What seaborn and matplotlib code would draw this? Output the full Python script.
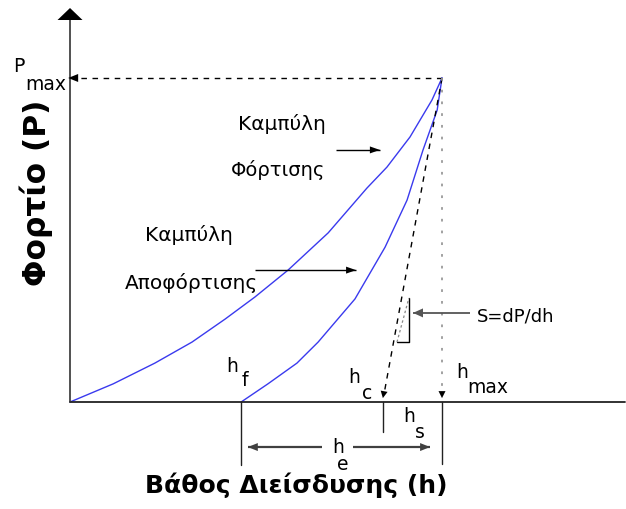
import numpy as np
import pandas as pd
import matplotlib
matplotlib.use("Agg")
import matplotlib.pyplot as plt
import seaborn as sns

# Loading / unloading curve of a depth-sensing indentation test (normalised: h/h_max, P/P_max)
load_h = [0.0, 0.116, 0.228, 0.328, 0.417, 0.497, 0.586, 0.694, 0.798, 0.852, 0.914, 0.973, 1.0]
load_P = [0.0, 0.056, 0.120, 0.185, 0.256, 0.324, 0.407, 0.522, 0.660, 0.725, 0.818, 0.932, 1.0]

unload_h = [0.460, 0.532, 0.610, 0.667, 0.766, 0.847, 0.906, 0.949, 0.987, 1.0]
unload_P = [0.0, 0.056, 0.120, 0.185, 0.318, 0.478, 0.623, 0.778, 0.901, 1.0]

h_f = 0.460     # final (residual) depth
h_c = 0.841     # contact depth
h_max = 1.0     # maximum depth
P_max = 1.0     # maximum load

curve_labels = ["Καμπύλη", "Φόρτισης", "Καμπύλη", "Αποφόρτισης"]
x_label = "Βάθος Διείσδυσης (h)"
y_label = "Φορτίο (P)"
stiffness_label = "S=dP/dh"

sns.set_theme(style="white")
plt.rcParams["font.family"] = ["DejaVu Sans"]
plt.rcParams["text.color"] = "black"

fig = plt.figure(figsize=(6.26, 5.09), dpi=100)
ax = fig.add_axes([0, 0, 1, 1])
ax.set_xlim(-0.1882, 1.4946)
ax.set_ylim(-0.3302, 1.2407)
ax.axis("off")

BLUE = "#3a3aee"
curves = pd.concat([
    pd.DataFrame({"h": load_h, "P": load_P, "curve": "load"}),
    pd.DataFrame({"h": unload_h, "P": unload_P, "curve": "unload"}),
])
sns.lineplot(data=curves, x="h", y="P", units="curve", estimator=None,
             sort=False, color=BLUE, lw=1.0, ax=ax, legend=False)


def head(tip, tail, length, width, color="black"):
    """Filled triangular arrow head, sized in pixels, pointing from tail to tip."""
    T = ax.transData
    tp = T.transform(tip)
    tl = T.transform(tail)
    d = tp - tl
    d = d / np.hypot(*d)
    n = np.array([-d[1], d[0]])
    base = tp - d * length
    pts = np.array([tp, base + n * width / 2, base - n * width / 2])
    dat = T.inverted().transform(pts)
    ax.fill(dat[:, 0], dat[:, 1], color=color, lw=0, zorder=5)


def arrow(tail, tip, color="black", lw=1.0, length=10, width=8, ls="-"):
    ax.plot([tail[0], tip[0]], [tail[1], tip[1]], color=color, lw=lw, ls=ls,
            solid_capstyle="butt")
    head(tip, tail, length, width, color)


# axes of the diagram
ax.plot([0, 1.492], [0, 0], color="#222222", lw=1.3)
ax.plot([0, 0], [0, 1.18], color="#333333", lw=1.2)
head((0, 1.216), (0, 0), 12, 25)

# P_max level
ax.plot([h_max, 0.025], [P_max, P_max], color="black", lw=1.0, ls=(0, (4, 4)))
head((-0.005, P_max), (h_max, P_max), 10, 8)

# unloading tangent down to h_c
ax.plot([h_max, h_c + 0.004], [P_max, 0.03], color="black", lw=1.0, ls=(0, (4, 4)))
head((h_c, 0.012), (h_max, P_max), 7, 7)

# h_max vertical
ax.plot([h_max, h_max], [P_max, 0.03], color="#9a9a9a", lw=1.3, ls=(0, (1.5, 5)))
head((h_max, 0.012), (h_max, P_max), 7, 7)

# reference lines below the depth axis
for hv, low in [(h_f, -0.194), (h_c, -0.093), (h_max, -0.19)]:
    ax.plot([hv, hv], [0, low], color="#222222", lw=1.0)

# elastic depth h_e span
he_y = -0.139
arrow((0.677, he_y), (0.478, he_y), color="#404040", lw=1.6, length=10, width=8)
arrow((0.761, he_y), (0.968, he_y), color="#404040", lw=1.6, length=10, width=8)

# stiffness triangle and pointer
ax.plot([0.879, 0.911, 0.911], [0.185, 0.185, 0.321], color="black", lw=1.0)
ax.plot([0.879, 0.911], [0.185, 0.321], color="#888888", lw=0.9, ls=(0, (2, 2)))
arrow((1.075, 0.275), (0.922, 0.275), color="#555555", lw=1.3, length=10, width=9)

# curve-name pointers
arrow((0.715, 0.778), (0.833, 0.778), color="black", lw=1.0, length=10, width=7)
arrow((0.497, 0.407), (0.769, 0.407), color="black", lw=1.0, length=10, width=7)

tx = dict(color="black", va="baseline")
ax.text(0.570, 0.840, curve_labels[0], ha="center", fontsize=14.5, **tx)
ax.text(0.560, 0.698, curve_labels[1], ha="center", fontsize=14, **tx)
ax.text(0.320, 0.497, curve_labels[2], ha="center", fontsize=14.5, **tx)
ax.text(0.325, 0.349, curve_labels[3], ha="center", fontsize=14.5, **tx)
ax.text(1.094, 0.247, stiffness_label, ha="left", fontsize=13, **tx)

# symbols with lowered suffixes
sym = [
    ("P", -0.153, 1.019, "max", -0.121, 0.963),
    ("h", 0.419, 0.093, "f", 0.460, 0.049),
    ("h", 0.747, 0.059, "c", 0.785, 0.009),
    ("h", 1.038, 0.074, "max", 1.067, 0.028),
    ("h", 0.895, -0.062, "s", 0.927, -0.111),
    ("h", 0.704, -0.157, "e", 0.718, -0.210),
]
for main, mx, my, sub, sx, sy in sym:
    ax.text(mx, my, main, ha="left", fontsize=13.5, **tx)
    ax.text(sx, sy, sub, ha="left", fontsize=13.5, **tx)

ax.text(0.609, -0.281, x_label, ha="center", va="baseline", color="black",
        fontsize=18, fontweight="bold")
ax.text(-0.090, 0.645, y_label, ha="center", va="center", rotation=90,
        color="black", fontsize=22.5, fontweight="bold")

fig.savefig("out.png", dpi=100)
